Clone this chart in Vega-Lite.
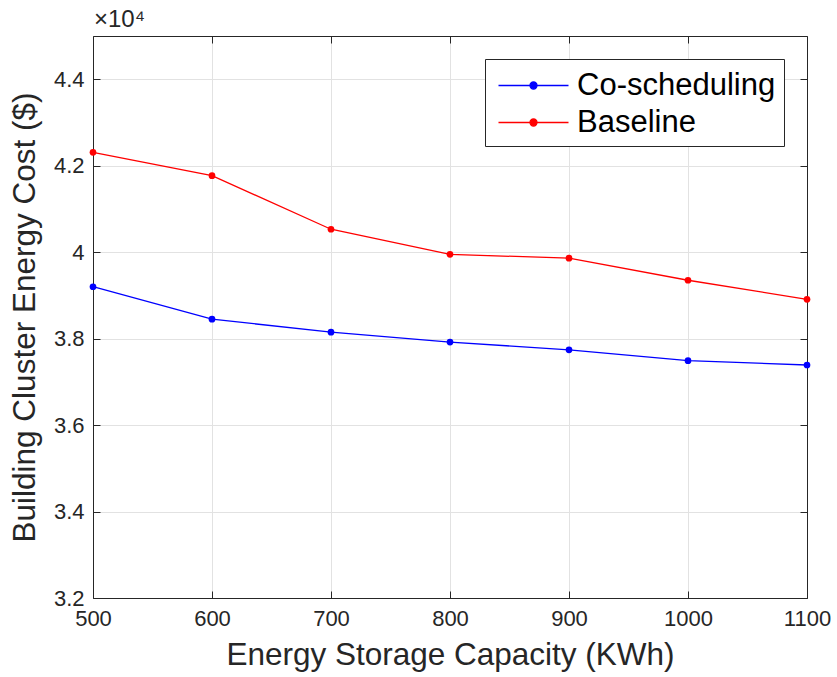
{
  "$schema": "https://vega.github.io/schema/vega-lite/v6.json",
  "width": 714,
  "height": 562,
  "autosize": {"type": "none"},
  "padding": {"left": 93, "top": 36, "right": 30, "bottom": 79},
  "background": "white",
  "title": {"text": "×10⁴", "anchor": "start", "frame": "group", "fontSize": 24, "font": "Liberation Sans", "fontWeight": "normal", "color": "#262626", "offset": 4, "dx": 1},
  "config": {
    "view": {"stroke": null},
    "font": "Liberation Sans",
    "axis": {
      "domainColor": "#262626",
      "domainWidth": 1,
      "tickColor": "#262626",
      "tickWidth": 1,
      "labelColor": "#262626",
      "labelFont": "Liberation Sans",
      "labelFontSize": 22,
      "titleFont": "Liberation Sans",
      "titleFontSize": 31.5,
      "titleFontWeight": "normal",
      "titleColor": "#262626",
      "gridColor": "#e2e2e2",
      "gridWidth": 1
    }
  },
  "data": {
    "values": [
      {"capacity": 500, "series": "Co-scheduling", "cost": 39200},
      {"capacity": 600, "series": "Co-scheduling", "cost": 38450},
      {"capacity": 700, "series": "Co-scheduling", "cost": 38150},
      {"capacity": 800, "series": "Co-scheduling", "cost": 37920},
      {"capacity": 900, "series": "Co-scheduling", "cost": 37740},
      {"capacity": 1000, "series": "Co-scheduling", "cost": 37490},
      {"capacity": 1100, "series": "Co-scheduling", "cost": 37390},
      {"capacity": 500, "series": "Baseline", "cost": 42310},
      {"capacity": 600, "series": "Baseline", "cost": 41770},
      {"capacity": 700, "series": "Baseline", "cost": 40530},
      {"capacity": 800, "series": "Baseline", "cost": 39950},
      {"capacity": 900, "series": "Baseline", "cost": 39860},
      {"capacity": 1000, "series": "Baseline", "cost": 39350},
      {"capacity": 1100, "series": "Baseline", "cost": 38910}
    ]
  },
  "layer": [
    {
      "mark": {"type": "line", "strokeWidth": 1.3},
      "encoding": {
        "x": {
          "field": "capacity", "type": "quantitative",
          "scale": {"domain": [500, 1100], "nice": false, "zero": false},
          "axis": {"orient": "bottom", "title": "Energy Storage Capacity (KWh)", "values": [500, 600, 700, 800, 900, 1000, 1100], "format": "d", "grid": true, "tickSize": -7, "labelPadding": 17, "titlePadding": 10, "labelFlush": false}
        },
        "y": {
          "field": "cost", "type": "quantitative",
          "scale": {"domain": [32000, 45000], "nice": false, "zero": false},
          "axis": {"orient": "left", "title": "Building Cluster Energy Cost ($)", "values": [32000, 34000, 36000, 38000, 40000, 42000, 44000], "labelExpr": "format(datum.value/10000, '.1~f')", "grid": true, "tickSize": -7, "labelPadding": 16, "titlePadding": 12}
        },
        "color": {
          "field": "series", "type": "nominal",
          "scale": {"domain": ["Co-scheduling", "Baseline"], "range": ["#0000ff", "#ff0000"]},
          "legend": {
            "title": null,
            "orient": "top-right",
            "offset": 23,
            "padding": 8,
            "strokeColor": "#262626",
            "fillColor": "white",
            "labelFontSize": 31,
            "labelColor": "black",
            "labelFont": "Liberation Sans",
            "labelLimit": 400,
            "symbolSize": 1225,
            "symbolType": "M -2 0 L 2 0 M 0.2 0 A 0.2 0.2 0 1 1 -0.2 0 A 0.2 0.2 0 1 1 0.2 0 Z",
            "symbolOffset": 22,
            "labelOffset": 25,
            "rowPadding": 3,
            "encode": {
              "symbols": {"update": {"fill": {"scale": "color", "field": "value"}, "stroke": {"scale": "color", "field": "value"}, "strokeWidth": {"value": 1.3}, "opacity": {"value": 1}}}
            }
          }
        }
      }
    },
    {
      "mark": {"type": "point", "filled": true, "size": 45, "opacity": 1},
      "encoding": {
        "x": {
          "field": "capacity", "type": "quantitative",
          "axis": {"orient": "top", "title": null, "labels": false, "grid": false, "values": [500, 600, 700, 800, 900, 1000, 1100], "tickSize": -7}
        },
        "y": {
          "field": "cost", "type": "quantitative",
          "axis": {"orient": "right", "title": null, "labels": false, "grid": false, "values": [32000, 34000, 36000, 38000, 40000, 42000, 44000], "tickSize": -7}
        },
        "color": {"field": "series", "type": "nominal", "legend": null}
      }
    }
  ],
  "resolve": {"axis": {"x": "independent", "y": "independent"}}
}
